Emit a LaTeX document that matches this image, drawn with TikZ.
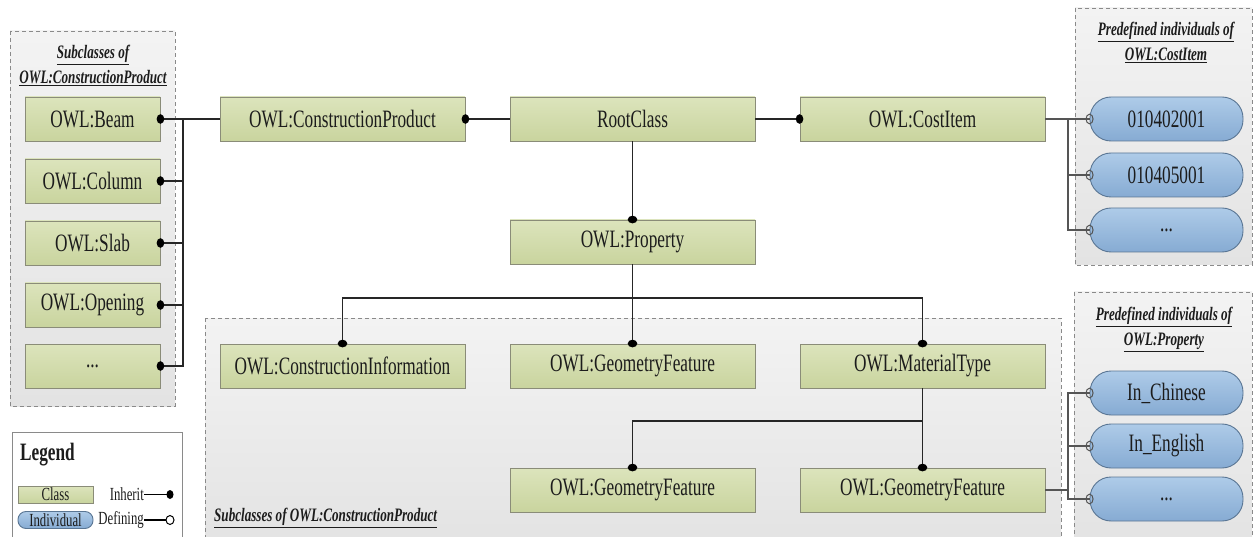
\documentclass[tikz,border=0pt]{standalone}
\usepackage{fontspec}
\setmainfont{Liberation Serif}
\newfontfamily\tnr[FakeStretch=0.69]{Liberation Serif}
\definecolor{clstop}{HTML}{DCE4BC}
\definecolor{clsbot}{HTML}{C9D49E}
\definecolor{clsborder}{HTML}{8A8C78}
\definecolor{indtop}{HTML}{AECBE8}
\definecolor{indbot}{HTML}{86ABD3}
\definecolor{indborder}{HTML}{5A7694}
\definecolor{grptop}{HTML}{F3F3F3}
\definecolor{grpbot}{HTML}{E3E3E3}
\definecolor{grpborder}{HTML}{8A8A8A}
\definecolor{txt}{HTML}{1C1C1C}
\definecolor{defline}{HTML}{555555}
\tikzset{
  cls/.style={draw=clsborder, line width=0.9pt, top color=clstop, bottom color=clsbot,
    minimum width=245pt, minimum height=44pt, inner sep=0pt, text=txt,
    font=\tnr\fontsize{25}{27}\selectfont},
  smallcls/.style={cls, minimum width=135pt},
  indiv/.style={draw=indborder, line width=0.9pt, top color=indtop, bottom color=indbot,
    rounded corners=21pt, minimum width=153pt, minimum height=44pt, inner sep=0pt, text=txt,
    font=\tnr\fontsize{25}{27}\selectfont},
  grp/.style={draw=grpborder, line width=0.8pt, dash pattern=on 4pt off 3pt, top color=grptop, bottom color=grpbot},
  grptitle/.style={font=\tnr\bfseries\itshape\fontsize{19}{21}\selectfont, text=txt, inner sep=0pt},
  conn/.style={line width=1.4pt, draw=black!85},
  defconn/.style={line width=1.3pt, draw=defline},
  inhdot/.style={fill=black},
  defdot/.style={draw=defline, line width=1pt, fill=none},
  legtext/.style={font=\tnr\fontsize{18.5}{20}\selectfont, text=txt, inner sep=0pt}
}
\begin{document}
\begin{tikzpicture}[x=1pt,y=-1pt]
\useasboundingbox (0,0) rectangle (1258,537);
% group boxes
\path[grp] (10,31) rectangle (175,406);
\path[grp] (1075,8) rectangle (1252,265);
\path[grp] (205,318) rectangle (1061,545);
\path[grp] (1074,292) rectangle (1252,545);
% group titles
\node[grptitle] (t1a) at (93,55) {\underline{Subclasses of}};
\node[grptitle] (t1b) at (93,78) {\underline{OWL:ConstructionProduct}};
\node[grptitle] (t2a) at (1166,32) {\underline{Predefined individuals of}};
\node[grptitle] (t2b) at (1166,55) {\underline{OWL:CostItem}};
\node[grptitle] (t3a) at (1164,317) {\underline{Predefined individuals of}};
\node[grptitle] (t3b) at (1164,342) {\underline{OWL:Property}};
\node[grptitle, anchor=west] (t4) at (214,518) {\underline{Subclasses of OWL:ConstructionProduct}};
% left subclasses
\node[smallcls] (beam) at (92.5,119) {OWL:Beam};
\node[smallcls] (col) at (92.5,181) {OWL:Column};
\node[smallcls] (slab) at (92.5,243) {OWL:Slab};
\node[smallcls] (open) at (92.5,305) {OWL:Opening};
\node[smallcls] (more) at (92.5,366) {...};
% main classes
\node[cls] (cp) at (342.5,119) {OWL:ConstructionProduct};
\node[cls] (root) at (632.5,119) {RootClass};
\node[cls] (cost) at (922.5,119) {OWL:CostItem};
\node[cls] (prop) at (632.5,242) {OWL:Property};
\node[cls] (ci) at (342.5,366) {OWL:ConstructionInformation};
\node[cls] (gf) at (632.5,366) {OWL:GeometryFeature};
\node[cls] (mt) at (922.5,366) {OWL:MaterialType};
\node[cls] (gf2) at (632.5,490) {OWL:GeometryFeature};
\node[cls] (gf3) at (922.5,490) {OWL:GeometryFeature};
% individuals
\node[indiv] (i1) at (1166.5,119) {010402001};
\node[indiv] (i2) at (1166.5,175) {010405001};
\node[indiv] (i3) at (1166.5,230) {...};
\node[indiv] (p1) at (1166.5,393) {In\_Chinese};
\node[indiv] (p2) at (1166.5,446) {In\_English};
\node[indiv] (p3) at (1166.5,499) {...};
% connectors: left bus
\coordinate (bus) at (183,119);
\draw[conn] (beam.east) -- (cp.west);
\draw[conn] (bus) |- (more.east);
\draw[conn] (col.east) -- (col.east -| bus);
\draw[conn] (slab.east) -- (slab.east -| bus);
\draw[conn] (open.east) -- (open.east -| bus);
\foreach \n in {beam,col,slab,open,more} \fill[inhdot] (\n.east) ellipse (3.8pt and 4.8pt);
% top chain
\draw[conn] (cp.east) -- (root.west);
\fill[inhdot] (cp.east) ellipse (3.8pt and 4.8pt);
\draw[conn] (root.east) -- (cost.west);
\fill[inhdot] (cost.west) ellipse (3.8pt and 4.8pt);
\draw[conn] (root.south) -- (prop.north);
\fill[inhdot] (prop.north) ellipse (4.8pt and 3.8pt);
% property hierarchy
\coordinate (hl) at (0,298);
\draw[conn] (prop.south) -- (prop.south |- hl);
\draw[conn] (ci.north) |- (mt.north |- hl) -- (mt.north);
\draw[conn] (gf.north) -- (gf.north |- hl);
\foreach \n in {ci,gf,mt} \fill[inhdot] (\n.north) ellipse (4.8pt and 3.8pt);
\coordinate (hl2) at (0,421);
\draw[conn] (mt.south) -- (gf3.north);
\draw[conn] (mt.south |- hl2) -| (gf2.north);
\foreach \n in {gf2,gf3} \fill[inhdot] (\n.north) ellipse (4.8pt and 3.8pt);
% defining connectors
\coordinate (bx1) at (1068,119);
\draw[defconn] (cost.east) -- (i1.west);
\draw[defconn] (bx1) |- (i3.west);
\draw[defconn] (i2.west) -- (i2.west -| bx1);
\foreach \n in {i1,i2,i3} \draw[defdot] (\n.west) ellipse (3.5pt and 4.8pt);
\coordinate (bx2) at (1068,393);
\draw[defconn] (gf3.east) -- (gf3.east -| bx2);
\draw[defconn] (p1.west) -| (bx2 |- p3.west) -- (p3.west);
\draw[defconn] (p2.west) -- (p2.west -| bx2);
\foreach \n in {p1,p2,p3} \draw[defdot] (\n.west) ellipse (3.5pt and 4.8pt);
% legend
\path[draw=grpborder, line width=0.8pt, fill=white] (12,432) rectangle (182,545);
\node[anchor=west, font=\tnr\bfseries\fontsize{25}{27}\selectfont, text=txt, inner sep=0pt] (legt) at (20,455) {Legend};
\node[cls, minimum width=75pt, minimum height=17pt, font=\tnr\fontsize{18.5}{20}\selectfont] (lcls) at (55.5,494.5) {Class};
\node[indiv, minimum width=75pt, minimum height=17pt, rounded corners=8pt, font=\tnr\fontsize{18.5}{20}\selectfont] (lind) at (55.5,520) {Individual};
\node[legtext, anchor=east] (linh) at (144,494.5) {Inherit};
\node[legtext, anchor=east] (ldef) at (144,520) {Defining};
\coordinate (linhe) at (170,494.5);
\coordinate (ldefe) at (170,520);
\draw[line width=1.2pt] (linh.east) -- (linhe);
\fill[inhdot] (linhe) ellipse (3.5pt and 4.5pt);
\draw[line width=1.2pt] (ldef.east) -- ([xshift=-4pt]ldefe);
\draw[line width=1pt] (ldefe) ellipse (4pt and 4.5pt);
\end{tikzpicture}
\end{document}
